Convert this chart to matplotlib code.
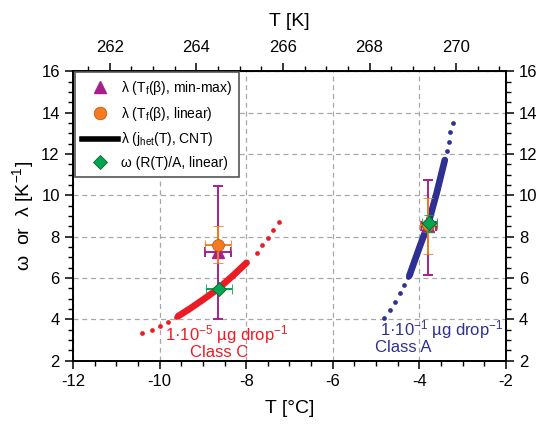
import matplotlib
matplotlib.use("Agg")
import matplotlib.pyplot as plt
from matplotlib.lines import Line2D
from matplotlib.ticker import MultipleLocator

plt.rcParams['font.family'] = ['Liberation Sans', 'DejaVu Sans']
plt.rcParams['mathtext.default'] = 'regular'
plt.rcParams['axes.unicode_minus'] = False

# ---- data ----
# Class C (red) CNT curve: dotted extrapolation + thick fitted range
red_dots_lo_x = [-10.40, -10.18, -10.00, -9.80, -9.61]
red_dots_lo_y = [3.33, 3.49, 3.69, 3.87, 4.10]
red_line_x = [-9.57, -9.30, -9.00, -8.65, -8.30, -7.99]
red_line_y = [4.16, 4.52, 4.95, 5.48, 6.13, 6.74]
red_dots_hi_x = [-7.76, -7.63, -7.49, -7.37, -7.24]
red_dots_hi_y = [7.23, 7.60, 7.95, 8.33, 8.71]

# Class A (blue) CNT curve
blue_dots_lo_x = [-4.81, -4.68, -4.56, -4.45, -4.35, -4.25]
blue_dots_lo_y = [4.05, 4.45, 4.86, 5.26, 5.66, 6.07]
blue_line_x = [-4.23, -3.99, -3.79, -3.60, -3.41]
blue_line_y = [6.11, 7.52, 8.65, 10.10, 11.71]
blue_dots_hi_x = [-3.36, -3.32, -3.28, -3.23]
blue_dots_hi_y = [12.15, 12.60, 13.05, 13.49]

# point estimates: [Class C, Class A]
mm_x = [-8.65, -3.79]; mm_y = [7.28, 8.50]
mm_ylo = [4.00, 6.15]; mm_yhi = [10.46, 10.75]
mm_xerr = [0.29, 0.18]

lin_x = [-8.65, -3.79]; lin_y = [7.60, 8.55]
lin_ylo = [6.71, 7.16]; lin_yhi = [8.53, 9.89]
lin_xerr = [0.31, 0.20]

om_x = [-8.63, -3.77]; om_y = [5.46, 8.65]
om_ylo = [5.36, 8.24]; om_yhi = [5.56, 9.05]
om_xerr = [0.30, 0.17]

xticks = [-12, -10, -8, -6, -4, -2]
yticks = [2, 4, 6, 8, 10, 12, 14, 16]
kticks = [262, 264, 266, 268, 270]

RED = '#ed1c24'
BLUE = '#2e3192'
PURPLE = '#a5218e'
ORANGE = '#f47b20'
GREEN = '#00a651'

fig = plt.figure(figsize=(5.41, 4.30), dpi=100)
ax = fig.add_axes([0.135, 0.161, 0.800, 0.673])

# curves
ax.plot(red_dots_lo_x, red_dots_lo_y, 'o', color=RED, ms=3.4, mec='none', zorder=2)
ax.plot(red_line_x, red_line_y, '-', color=RED, lw=4.8, solid_capstyle='round', zorder=2)
ax.plot(red_dots_hi_x, red_dots_hi_y, 'o', color=RED, ms=3.4, mec='none', zorder=2)
ax.plot(blue_dots_lo_x, blue_dots_lo_y, 'o', color=BLUE, ms=3.4, mec='none', zorder=2)
ax.plot(blue_line_x, blue_line_y, '-', color=BLUE, lw=4.8, solid_capstyle='round', zorder=2)
ax.plot(blue_dots_hi_x, blue_dots_hi_y, 'o', color=BLUE, ms=3.4, mec='none', zorder=2)

def yerr(y, lo, hi):
    return [[a - b for a, b in zip(y, lo)], [b - a for a, b in zip(y, hi)]]

ax.errorbar(mm_x, mm_y, yerr=yerr(mm_y, mm_ylo, mm_yhi), xerr=mm_xerr, fmt='^',
            color=PURPLE, ecolor=PURPLE, ms=8, mec=PURPLE, elinewidth=1.4,
            capsize=3.5, capthick=1.4, zorder=3)
ax.errorbar(lin_x, lin_y, yerr=yerr(lin_y, lin_ylo, lin_yhi), xerr=lin_xerr, fmt='o',
            color=ORANGE, ecolor=ORANGE, ms=8.5, mec='#c05a10', mew=0.6, elinewidth=1.4,
            capsize=3.5, capthick=1.4, zorder=4)
ax.errorbar(om_x, om_y, yerr=yerr(om_y, om_ylo, om_yhi), xerr=om_xerr, fmt='D',
            color=GREEN, ecolor=GREEN, ms=7, mec='#1a5c2a', mew=0.6, elinewidth=1.4,
            capsize=3.5, capthick=1.4, zorder=5)

# annotations
ax.text(-8.44, 3.29, '1·10$^{-5}$ µg drop$^{-1}$', color=RED, fontsize=12,
        ha='center', va='center')
ax.text(-8.63, 2.42, 'Class C', color=RED, fontsize=12, ha='center', va='center')
ax.text(-3.48, 3.49, '1·10$^{-1}$ µg drop$^{-1}$', color=BLUE, fontsize=12,
        ha='center', va='center')
ax.text(-4.36, 2.62, 'Class A', color=BLUE, fontsize=12, ha='center', va='center')

# axes styling
ax.set_xlim(-12, -2)
ax.set_ylim(2, 16)
ax.set_xticks(xticks)
ax.set_yticks(yticks)
ax.xaxis.set_minor_locator(MultipleLocator(0.5))
ax.yaxis.set_minor_locator(MultipleLocator(0.5))
ax.grid(True, which='major', linestyle=(0, (4, 3)), color='#a8a8a8', lw=0.9)
ax.tick_params(which='major', direction='out', length=6, width=1.1, labelsize=12,
               right=True, labelright=True)
ax.tick_params(which='minor', direction='out', length=3.5, width=1.0, right=True)
for s in ax.spines.values():
    s.set_linewidth(1.4)
ax.set_xlabel('T [°C]', fontsize=14, labelpad=8)
ax.set_ylabel('ω  or  λ [K$^{-1}$]', fontsize=14, labelpad=4)

top = ax.secondary_xaxis('top', functions=(lambda c: c + 273.15, lambda k: k - 273.15))
top.set_xticks(kticks)
top.xaxis.set_minor_locator(MultipleLocator(0.5))
top.tick_params(which='major', direction='out', length=6, width=1.1, labelsize=12, pad=6)
top.tick_params(which='minor', direction='out', length=3.5, width=1.0)
top.set_xlabel('T [K]', fontsize=14, labelpad=10)

# legend
handles = [
    Line2D([], [], marker='^', ls='none', color=PURPLE, ms=9),
    Line2D([], [], marker='o', ls='none', color=ORANGE, mec='#c05a10', mew=0.6, ms=9),
    Line2D([], [], ls='-', color='black', lw=4),
    Line2D([], [], marker='D', ls='none', color=GREEN, mec='#1a5c2a', mew=0.6, ms=7.5),
]
labels = ['λ (T$_f$(β), min-max)', 'λ (T$_f$(β), linear)',
          'λ (j$_{het}$(T), CNT)', 'ω (R(T)/A, linear)']
leg = ax.legend(handles, labels, loc='upper left', bbox_to_anchor=(0.005, 0.997),
                fontsize=10, frameon=True, fancybox=False, edgecolor='#555555',
                framealpha=1, handlelength=2.6, handletextpad=0.2,
                borderpad=0.5, labelspacing=0.55, borderaxespad=0)
leg.get_frame().set_linewidth(1.2)

fig.savefig('out.png', dpi=100)
